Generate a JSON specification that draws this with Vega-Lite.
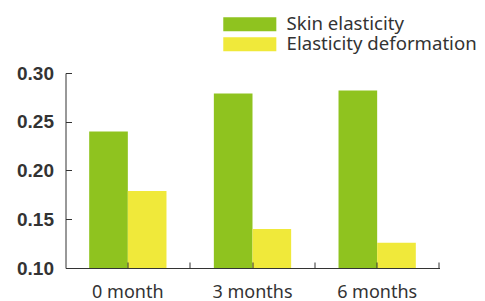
{
  "$schema": "https://vega.github.io/schema/vega-lite/v6.json",
  "autosize": {"type": "none"},
  "padding": {"left": 65.5, "top": 73, "right": 45.5, "bottom": 33},
  "width": 374,
  "height": 195,
  "config": {"view": {"stroke": null}},
  "data": {"values": [
    {"period": "0 month", "series": "Skin elasticity", "value": 0.240},
    {"period": "0 month", "series": "Elasticity deformation", "value": 0.179},
    {"period": "3 months", "series": "Skin elasticity", "value": 0.279},
    {"period": "3 months", "series": "Elasticity deformation", "value": 0.140},
    {"period": "6 months", "series": "Skin elasticity", "value": 0.282},
    {"period": "6 months", "series": "Elasticity deformation", "value": 0.126}
  ]},
  "resolve": {"axis": {"x": "independent"}},
  "layer": [
    {
      "mark": {"type": "bar", "clip": true},
      "encoding": {
        "x": {"field": "period", "type": "nominal", "sort": null,
          "scale": {"paddingInner": 0.38, "paddingOuter": 0.19},
          "axis": {"orient": "bottom", "title": null, "labelAngle": 0, "tickBand": "center", "tickSize": -6, "tickColor": "#333", "domainColor": "#333", "labelFont": "Noto Sans", "labelFontSize": 18, "labelColor": "#333", "labelPadding": 21, "zindex": 1}},
        "xOffset": {"field": "series", "type": "nominal", "sort": ["Skin elasticity", "Elasticity deformation"]},
        "y": {"field": "value", "type": "quantitative",
          "scale": {"domain": [0.1, 0.3], "zero": false, "nice": false},
          "axis": {"title": null, "values": [0.1, 0.15, 0.2, 0.25, 0.3], "format": ".2f", "grid": false, "tickSize": -6, "tickColor": "#333", "domainColor": "#333", "labelFont": "Liberation Sans", "labelFontWeight": "bold", "labelFontSize": 19, "labelColor": "#333", "labelPadding": 18}},
        "color": {"field": "series", "type": "nominal", "sort": ["Skin elasticity", "Elasticity deformation"],
          "scale": {"range": ["#8FC31F", "#F0E93A"]},
          "legend": {"title": null, "orient": "none", "legendX": 175, "legendY": -58, "symbolType": "M-3.79,-1H3.79V1H-3.79Z", "symbolSize": 196, "symbolStrokeWidth": 0, "symbolOpacity": 1, "labelFont": "Noto Sans", "labelFontSize": 18.6, "labelColor": "#333", "labelOffset": 27.5, "labelLimit": 0, "rowPadding": 1}}
      }
    },
    {
      "mark": {"type": "bar", "opacity": 0},
      "encoding": {
        "x": {"field": "period", "type": "nominal", "sort": null,
          "axis": {"orient": "bottom", "title": null, "labels": false, "domain": false, "bandPosition": 1.306, "tickSize": -6, "tickColor": "#333", "zindex": 1}},
        "y": {"field": "value", "type": "quantitative"}
      }
    }
  ]
}
